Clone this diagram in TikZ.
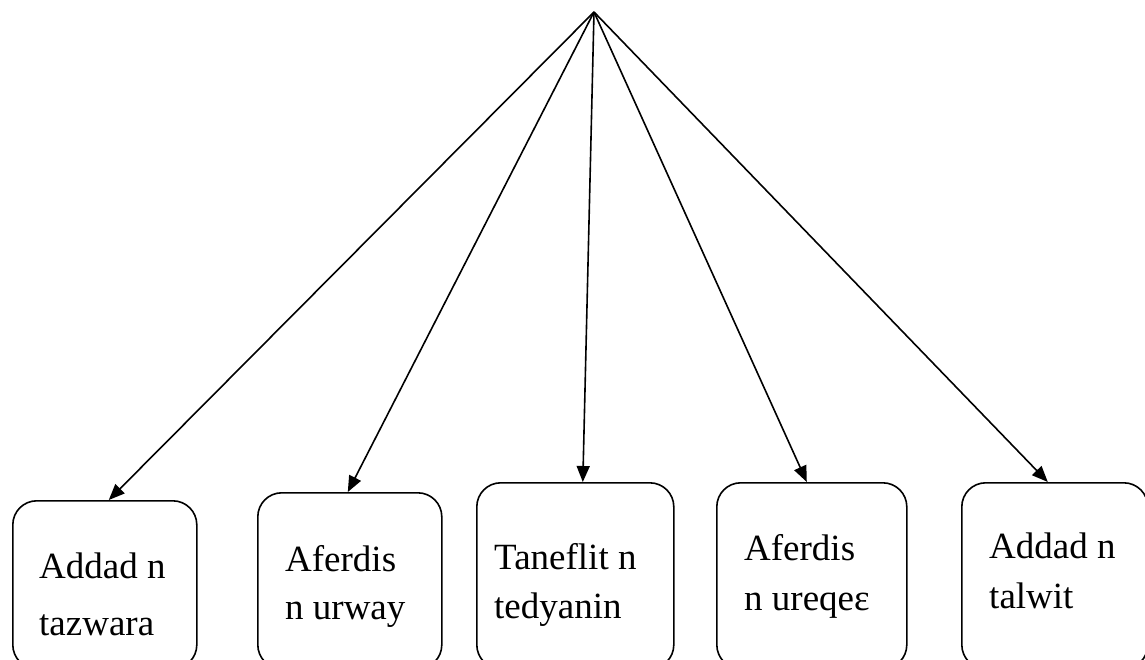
\documentclass[tikz,border=0pt]{standalone}
\usepackage{fontspec}
\setmainfont{Liberation Serif}
\usetikzlibrary{arrows.meta,calc}
\begin{document}
\begin{tikzpicture}[x=1pt,y=-1pt,
  box/.style={draw,line width=1.6pt,rounded corners=24pt,rectangle,anchor=north west,inner sep=0pt},
  lbl/.style={anchor=north west,inner sep=0pt,align=left},
  arr/.style={line width=1.6pt,-{Triangle[length=16pt,width=13pt]}}]
\useasboundingbox (0,0) rectangle (1145,659);
\clip (0,0) rectangle (1145,659);
\coordinate (apex) at (594,12);
\node[box,minimum width=184pt,minimum height=168pt] (b1) at (12,500) {};
\node[box,minimum width=184pt,minimum height=176pt] (b2) at (257,492) {};
\node[box,minimum width=197pt,minimum height=186pt] (b3) at (476,482) {};
\node[box,minimum width=190pt,minimum height=186pt] (b4) at (716,482) {};
\node[box,minimum width=186pt,minimum height=186pt] (b5) at (961,482) {};
\node[lbl,font=\fontsize{37}{57}\selectfont] (t1) at (39,553) {Addad n\\tazwara};
\node[lbl,font=\fontsize{37}{48}\selectfont] (t2) at (285,545) {Aferdis\\n urway};
\node[lbl,font=\fontsize{37}{49}\selectfont] (t3) at (494,543) {Taneflit n\\tedyanin};
\node[lbl,font=\fontsize{37}{50}\selectfont] (t4) at (744,534) {Aferdis\\n ureqe\char"025B};
\node[lbl,font=\fontsize{37}{50}\selectfont] (t5) at (989,533) {Addad n\\talwit};
\draw[arr] (apex) -- ([xshift=4pt]b1.north);
\draw[arr] (apex) -- ([xshift=-2pt]b2.north);
\draw[arr] (apex) -- ([xshift=7.5pt]b3.north);
\draw[arr] (apex) -- ([xshift=-5pt]b4.north);
\draw[arr] (apex) -- ([xshift=-7pt]b5.north);
\end{tikzpicture}
\end{document}
